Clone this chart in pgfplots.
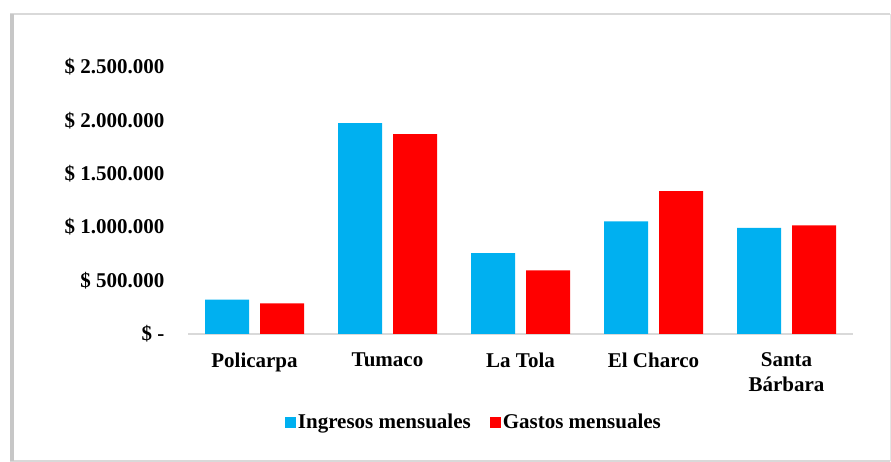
\documentclass[border=0pt]{standalone}
\usepackage{pgfplots}
\pgfplotsset{compat=1.18}
\usepackage{fontspec}
\setmainfont{Liberation Serif}
\definecolor{ingresos}{HTML}{00B0F0}
\definecolor{gastos}{HTML}{FF0000}
\definecolor{marco}{HTML}{D9D9D9}
\begin{document}
\begin{tikzpicture}
\path[use as bounding box] (0pt,0pt) rectangle (891pt,462pt);
% marco del grafico
\draw[marco, line width=2pt] (10pt,1pt) -- (890pt,1pt);
\draw[marco, line width=1.5pt] (10pt,448pt) -- (890pt,448pt);
\draw[marco!70!white, line width=0.6pt] (890pt,448pt) -- (890pt,1pt);
\draw[marco!80!gray, line width=4pt] (12pt,1pt) -- (12pt,448pt);
\begin{axis}[
    at={(188pt,128pt)}, anchor=south west,
    scale only axis,
    width=665pt, height=267pt,
    ybar, bar width=44pt,
    ymin=0, ymax=2500000,
    xmin=-0.5, xmax=4.5,
    xtick={0,1,2,3,4},
    xticklabels={Policarpa, Tumaco, La Tola, El Charco, {Santa\\Bárbara}},
    xticklabel style={align=center, font=\fontsize{21}{25}\selectfont\bfseries, yshift=-15pt},
    ytick={0,500000,1000000,1500000,2000000,2500000},
    yticklabels={\$ -, \$ 500.000, \$ 1.000.000, \$ 1.500.000, \$ 2.000.000, \$ 2.500.000},
    yticklabel style={font=\fontsize{21}{25}\selectfont\bfseries, xshift=-20pt},
    axis line style={marco, line width=2pt},
    axis x line*=bottom, axis y line*=left,
    y axis line style={draw=none},
    major tick length=0pt,
    scaled y ticks=false,
    enlarge y limits=false,
    every axis plot/.append style={draw=none},
    legend style={at={(0.43,-0.33)}, anchor=center, draw=none,
        legend columns=2, font=\fontsize{21}{25}\selectfont\bfseries,
        /tikz/every even column/.append style={column sep=17pt}},
    legend image code/.code={\fill[#1] (0pt,-5.5pt) rectangle (11pt,5.5pt);},
    clip=false,
]
\addplot[fill=ingresos, bar shift=-27.5pt] coordinates {(0,321000) (1,1975000) (2,758000) (3,1055000) (4,993000)};
\addlegendentry{Ingresos mensuales}
\addplot[fill=gastos, bar shift=27.5pt] coordinates {(0,286000) (1,1871000) (2,596000) (3,1337000) (4,1018000)};
\addlegendentry{Gastos mensuales}
\end{axis}
\end{tikzpicture}
\end{document}
